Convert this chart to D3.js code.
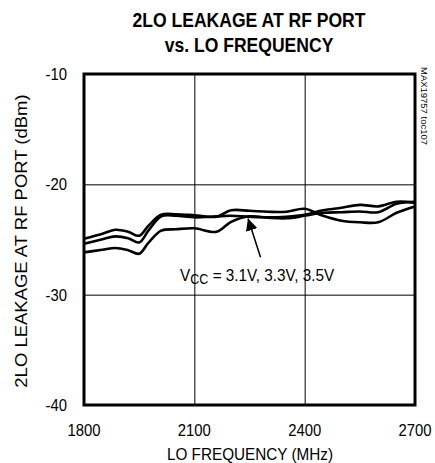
<!DOCTYPE html>
<html>
<head>
<meta charset="utf-8">
<script src="https://cdn.jsdelivr.net/npm/d3@7"></script>
<style>
  body { margin: 0; background: #fff; }
  text { font-family: "Liberation Sans", Arial, sans-serif; fill: #000; }
</style>
</head>
<body>
<div id="viz-container"></div>
<script>
// LO frequency (MHz)
let freq = [1800, 1850, 1885, 1920, 1950, 1975, 2010, 2050, 2100, 2160, 2200, 2250, 2300, 2350, 2400, 2450, 2500, 2550, 2600, 2650, 2700];
// 2LO leakage (dBm), one array per curve
let curveA = [-24.93, -24.48, -24.12, -24.3, -24.66, -23.76, -22.76, -22.71, -22.8, -22.94, -22.35, -22.4, -22.49, -22.49, -22.22, -22.85, -23.3, -23.44, -23.44, -22.58, -22.0];
let curveB = [-25.38, -24.98, -24.72, -24.89, -25.27, -24.2, -22.9, -22.85, -22.99, -22.9, -22.85, -22.94, -22.99, -22.94, -22.76, -22.35, -22.13, -21.86, -22.0, -21.58, -21.67];
let curveC = [-26.17, -25.93, -25.77, -25.97, -26.29, -25.3, -24.2, -24.07, -23.98, -24.3, -23.4, -22.9, -23.03, -23.08, -22.85, -22.58, -22.53, -22.46, -22.53, -21.76, -21.58];

let xTicks = [1800, 2100, 2400, 2700];
let yTicks = [-10, -20, -30, -40];

let W = 435, H = 463;
let pL = 84, pR = 415, pT = 74, pB = 405;
let squeeze = 0.9; // the original art is a bit narrow horizontally

let viz = d3.select("#viz-container")
  .append("svg")
    .attr("width", W)
    .attr("height", H);

let x = d3.scaleLinear().domain([1800, 2700]).range([pL, pR]);
let y = d3.scaleLinear().domain([-40, -10]).range([pB, pT]);

// text helper: horizontal text gets squeezed in x, rotated text in its glyph height
function txt(px, py, str, size, anchor, rot) {
  let t = "translate(" + px + "," + py + ")";
  if (rot) t += " rotate(" + rot + ") scale(1," + squeeze + ")";
  else t += " scale(" + squeeze + ",1)";
  return viz.append("text")
    .attr("transform", t)
    .attr("text-anchor", anchor || "start")
    .attr("font-size", size)
    .text(str);
}

// grid
viz.append("g")
  .attr("transform", "translate(0," + pB + ")")
  .call(d3.axisBottom(x).tickValues(xTicks).tickSize(-(pB - pT)).tickFormat(""))
  .call(g => g.select(".domain").remove())
  .selectAll("line").attr("stroke", "#000").attr("stroke-width", 1);

viz.append("g")
  .attr("transform", "translate(" + pL + ",0)")
  .call(d3.axisLeft(y).tickValues(yTicks).tickSize(-(pR - pL)).tickFormat(""))
  .call(g => g.select(".domain").remove())
  .selectAll("line").attr("stroke", "#000").attr("stroke-width", 1);

// frame
viz.append("rect")
  .attr("x", pL).attr("y", pT)
  .attr("width", pR - pL).attr("height", pB - pT)
  .attr("fill", "none").attr("stroke", "#000").attr("stroke-width", 3);

// tick labels
xTicks.forEach(d => txt(x(d), 436, d, 16.5, "middle"));
yTicks.forEach(d => txt(67, y(d) + 6, d, 16.5, "end"));

// curves
let line = d3.line()
  .x((d, i) => x(freq[i]))
  .y(d => y(d))
  .curve(d3.curveCatmullRom.alpha(0.5));

[curveA, curveB, curveC].forEach(c => {
  viz.append("path")
    .attr("d", line(c))
    .attr("fill", "none")
    .attr("stroke", "#000")
    .attr("stroke-width", 2.6)
    .attr("stroke-linejoin", "round");
});

// annotation arrow
viz.append("defs").append("marker")
  .attr("id", "arr")
  .attr("viewBox", "0 0 10 10")
  .attr("refX", 10).attr("refY", 5)
  .attr("markerWidth", 12).attr("markerHeight", 12)
  .attr("markerUnits", "userSpaceOnUse")
  .attr("orient", "auto")
  .append("path").attr("d", "M0,0 L10,5 L0,10 Z").attr("fill", "#000");

viz.append("line")
  .attr("x1", x(2280)).attr("y1", y(-26.6))
  .attr("x2", x(2246)).attr("y2", y(-23.1))
  .attr("stroke", "#000").attr("stroke-width", 1.5)
  .attr("marker-end", "url(#arr)");

let ann = txt(180, 281, "", 17);
ann.append("tspan").text("V");
ann.append("tspan").attr("font-size", 14).attr("dy", 3).text("CC");
ann.append("tspan").attr("dy", -3).text(" = 3.1V, 3.3V, 3.5V");

// titles
txt(249, 27, "2LO LEAKAGE AT RF PORT", 19.5, "middle").attr("font-weight", "bold");
txt(249, 52, "vs. LO FREQUENCY", 19.5, "middle").attr("font-weight", "bold");

txt(250, 460, "LO FREQUENCY (MHz)", 17, "middle");
txt(27, 241, "2LO LEAKAGE AT RF PORT (dBm)", 18.5, "middle", -90);
txt(421, 67, "MAX19757 toc107", 9.5, "start", 90);
</script>
</body>
</html>
